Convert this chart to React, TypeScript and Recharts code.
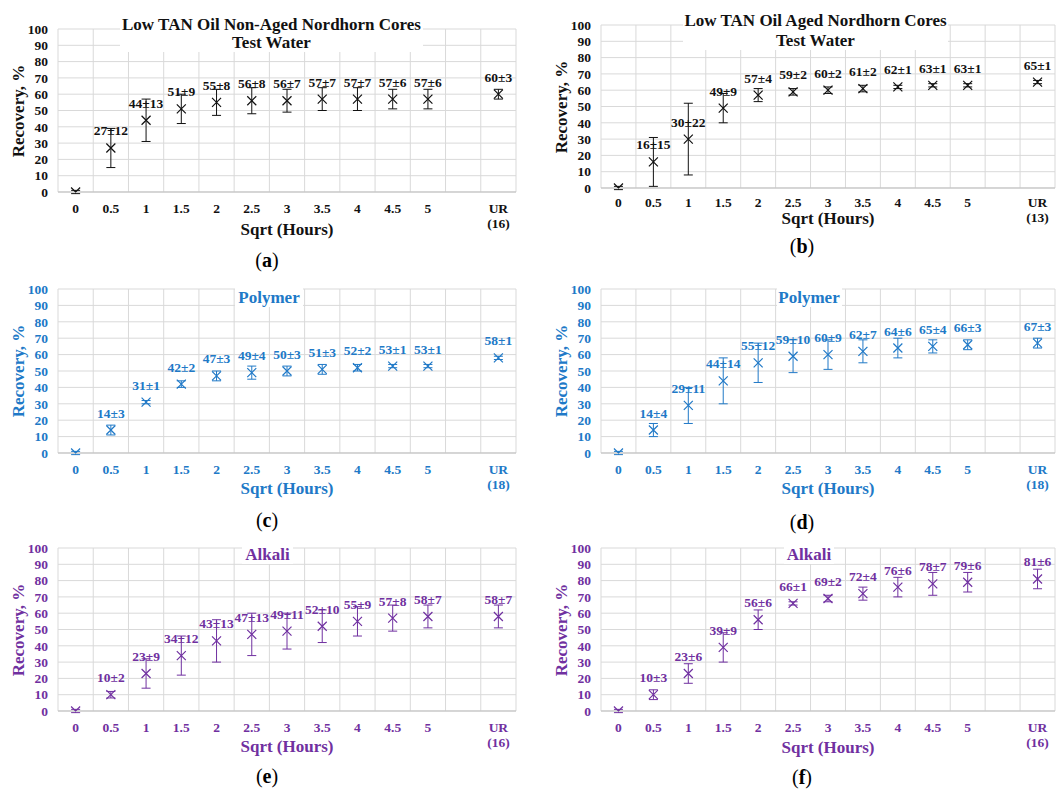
import { CartesianGrid, ComposedChart, ErrorBar, LabelList, Line, XAxis, YAxis } from 'recharts';

const categories = ['0', '0.5', '1', '1.5', '2', '2.5', '3', '3.5', '4', '4.5', '5', '', 'UR'];
const yTicks = [0, 10, 20, 30, 40, 50, 60, 70, 80, 90, 100];

// (a) test water, non-aged cores
const recoveryA = [0, 27, 44, 51, 55, 56, 56, 57, 57, 57, 57, null, 60];
const errorA = [1, 12, 13, 9, 8, 8, 7, 7, 7, 6, 6, null, 3];
// (b) test water, aged cores
const recoveryB = [0, 16, 30, 49, 57, 59, 60, 61, 62, 63, 63, null, 65];
const errorB = [1, 15, 22, 9, 4, 2, 2, 2, 1, 1, 1, null, 1];
// (c) polymer, non-aged
const recoveryC = [0, 14, 31, 42, 47, 49, 50, 51, 52, 53, 53, null, 58];
const errorC = [1, 3, 1, 2, 3, 4, 3, 3, 2, 1, 1, null, 1];
// (d) polymer, aged
const recoveryD = [0, 14, 29, 44, 55, 59, 60, 62, 64, 65, 66, null, 67];
const errorD = [1, 4, 11, 14, 12, 10, 9, 7, 6, 4, 3, null, 3];
// (e) alkali, non-aged
const recoveryE = [0, 10, 23, 34, 43, 47, 49, 52, 55, 57, 58, null, 58];
const errorE = [1, 2, 9, 12, 13, 13, 11, 10, 9, 8, 7, null, 7];
// (f) alkali, aged
const recoveryF = [0, 10, 23, 39, 56, 66, 69, 72, 76, 78, 79, null, 81];
const errorF = [1, 3, 6, 9, 6, 1, 2, 4, 6, 7, 6, null, 6];

const urCounts = [16, 13, 18, 18, 16, 16];

const BLACK = '#111111';
const BLUE = '#2079c7';
const PURPLE = '#7030a0';
const FONT = '"Liberation Serif", "Times New Roman", serif';
const SMALL = 13.5;

type Row = { cat: string; value: number | null; err: number | null; label: string };

function buildRows(values: (number | null)[], errors: (number | null)[]): Row[] {
  return categories.map((cat, i) => ({
    cat,
    value: values[i],
    err: errors[i],
    label: values[i] == null || cat === '0' ? '' : `${values[i]}±${errors[i]}`,
  }));
}

interface PanelProps {
  rows: Row[];
  color: string;
  title: string[];
  letter: string;
  ur: number;
  left: number;
  top: number;
  width: number;
  plotLeft: number;
  plotTop: number;
  plotW: number;
  plotH: number;
  tickDy: number;
  xLabelDy: number;
  letterX: number;
  letterY: number;
  titleCx: number;
  titleTop: number;
  titleW: number;
  lineH: number;
}

function Panel(p: PanelProps) {
  const height = p.plotTop + p.plotH + 40;
  const cross = (props: any) => {
    const { cx, cy, payload, index } = props;
    if (cx == null || cy == null || payload?.value == null) return <g key={index} />;
    const s = 4.5;
    return (
      <path
        key={index}
        d={`M${cx - s},${cy - s}L${cx + s},${cy + s}M${cx - s},${cy + s}L${cx + s},${cy - s}`}
        stroke={p.color}
        strokeWidth={1.2}
        fill="none"
      />
    );
  };
  const valueLabel = (props: any) => {
    const { x, y, value } = props;
    if (!value) return null;
    return (
      <text x={x} y={y - 17} textAnchor="middle" dominantBaseline="central" fill={p.color} fontSize={SMALL} fontWeight={700}>
        {value}
      </text>
    );
  };
  const catTick = (props: any) => {
    const { x, y, payload } = props;
    const common = { textAnchor: 'middle' as const, fill: p.color, fontSize: SMALL, fontWeight: 700 };
    if (payload.value === 'UR') {
      return (
        <g>
          <text x={x} y={y + p.tickDy} dominantBaseline="central" {...common}>UR</text>
          <text x={x} y={y + p.tickDy + 15} dominantBaseline="central" {...common}>({p.ur})</text>
        </g>
      );
    }
    return (
      <text x={x} y={y + p.tickDy} dominantBaseline="central" {...common}>
        {payload.value}
      </text>
    );
  };

  return (
    <div style={{ position: 'absolute', left: p.left, top: p.top, width: p.width, height: height + 30 }}>
      <ComposedChart
        width={p.width}
        height={height}
        data={p.rows}
        margin={{ top: p.plotTop, right: p.width - p.plotLeft - p.plotW, left: 0, bottom: 10 }}
      >
        <CartesianGrid
          stroke="#d9d9d9"
          verticalCoordinatesGenerator={({ offset }: any) =>
            [...categories, 'end'].map((_, i) => offset.left + (i * offset.width) / categories.length)
          }
        />
        <XAxis
          dataKey="cat"
          scale="band"
          interval={0}
          height={30}
          tickLine={false}
          axisLine={{ stroke: '#bfbfbf' }}
          tick={catTick}
        />
        <YAxis
          width={p.plotLeft}
          domain={[0, 100]}
          ticks={yTicks}
          interval={0}
          allowDataOverflow
          axisLine={false}
          tickLine={false}
          tickMargin={4}
          tick={{ fill: p.color, fontSize: SMALL, fontWeight: 700 }}
        />
        <Line dataKey="value" stroke="none" isAnimationActive={false} dot={cross} activeDot={false}>
          <ErrorBar dataKey="err" width={4.5} stroke={p.color} strokeWidth={1} direction="y" />
          <LabelList dataKey="label" content={valueLabel} />
        </Line>
      </ComposedChart>
      <div
        style={{
          position: 'absolute',
          left: p.titleCx - p.titleW / 2,
          top: p.titleTop,
          width: p.titleW,
          background: '#fff',
          textAlign: 'center',
          color: p.color,
          fontWeight: 700,
          fontSize: 17,
          lineHeight: `${p.lineH}px`,
          whiteSpace: 'nowrap',
        }}
      >
        {p.title.map((t) => (
          <div key={t}>{t}</div>
        ))}
      </div>
      <div
        style={{
          position: 'absolute',
          left: p.plotLeft - 39,
          top: p.plotTop + p.plotH / 2,
          transform: 'translate(-50%, -50%) rotate(-90deg)',
          color: p.color,
          fontWeight: 700,
          fontSize: 17,
          whiteSpace: 'nowrap',
        }}
      >
        Recovery, %
      </div>
      <div
        style={{
          position: 'absolute',
          left: p.plotLeft + p.plotW / 2,
          top: p.plotTop + p.plotH + p.xLabelDy,
          transform: 'translate(-50%, -50%)',
          color: p.color,
          fontWeight: 700,
          fontSize: 17,
          whiteSpace: 'nowrap',
        }}
      >
        Sqrt (Hours)
      </div>
      <div
        style={{
          position: 'absolute',
          left: p.letterX,
          top: p.letterY,
          transform: 'translate(-50%, -50%)',
          color: '#000',
          fontSize: 20,
          whiteSpace: 'nowrap',
        }}
      >
        (<b>{p.letter}</b>)
      </div>
    </div>
  );
}

const leftCol = { width: 530, plotLeft: 58, plotW: 458, letterX: 267 };
const rightCol = { width: 534, plotLeft: 71, plotW: 454, letterX: 272 };

export default function App() {
  return (
    <div
      style={{
        position: 'absolute',
        left: 0,
        top: 0,
        width: 1064,
        height: 791,
        background: '#fff',
        fontFamily: FONT,
        overflow: 'hidden',
      }}
    >
      <Panel
        {...leftCol}
        rows={buildRows(recoveryA, errorA)}
        color={BLACK}
        title={['Low TAN Oil Non-Aged Nordhorn Cores', 'Test Water']}
        letter="a"
        ur={urCounts[0]}
        left={0}
        top={0}
        plotTop={29}
        plotH={163}
        tickDy={8}
        xLabelDy={38}
        letterY={260}
        titleCx={271.5}
        titleTop={16}
        titleW={303}
        lineH={18}
      />
      <Panel
        {...rightCol}
        rows={buildRows(recoveryB, errorB)}
        color={BLACK}
        title={['Low TAN Oil Aged Nordhorn Cores', 'Test Water']}
        letter="b"
        ur={urCounts[1]}
        left={530}
        top={0}
        plotTop={25}
        plotH={163}
        tickDy={6}
        xLabelDy={31}
        letterY={246}
        titleCx={285.5}
        titleTop={11}
        titleW={265}
        lineH={19.5}
      />
      <Panel
        {...leftCol}
        rows={buildRows(recoveryC, errorC)}
        color={BLUE}
        title={['Polymer']}
        letter="c"
        ur={urCounts[2]}
        left={0}
        top={280}
        plotTop={9}
        plotH={164}
        tickDy={8}
        xLabelDy={36}
        letterY={240}
        titleCx={269}
        titleTop={8}
        titleW={68}
        lineH={19}
      />
      <Panel
        {...rightCol}
        rows={buildRows(recoveryD, errorD)}
        color={BLUE}
        title={['Polymer']}
        letter="d"
        ur={urCounts[3]}
        left={530}
        top={280}
        plotTop={9}
        plotH={164}
        tickDy={8}
        xLabelDy={36}
        letterY={242}
        titleCx={279}
        titleTop={8}
        titleW={65}
        lineH={19}
      />
      <Panel
        {...leftCol}
        rows={buildRows(recoveryE, errorE)}
        color={PURPLE}
        title={['Alkali']}
        letter="e"
        ur={urCounts[4]}
        left={0}
        top={535}
        plotTop={13}
        plotH={163}
        tickDy={8}
        xLabelDy={36}
        letterY={241}
        titleCx={267.5}
        titleTop={10}
        titleW={51}
        lineH={19}
      />
      <Panel
        {...rightCol}
        rows={buildRows(recoveryF, errorF)}
        color={PURPLE}
        title={['Alkali']}
        letter="f"
        ur={urCounts[5]}
        left={530}
        top={535}
        plotTop={13}
        plotH={163}
        tickDy={8}
        xLabelDy={37}
        letterY={242}
        titleCx={279}
        titleTop={10}
        titleW={50}
        lineH={19}
      />
    </div>
  );
}
